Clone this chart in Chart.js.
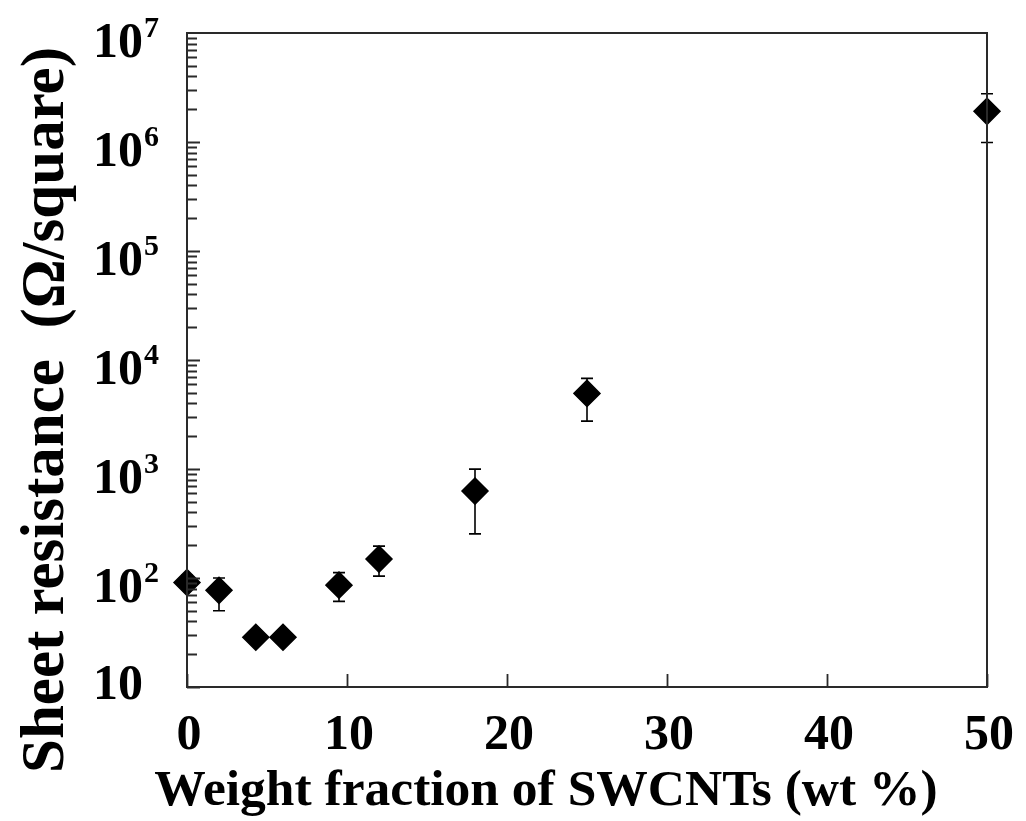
<!DOCTYPE html>
<html>
<head>
<meta charset="utf-8">
<script src="https://cdn.jsdelivr.net/npm/chart.js@4/dist/chart.umd.min.js"></script>
<style>
  html, body { margin: 0; padding: 0; background: #fff; }
  #wrap { width: 1026px; height: 821px; }
</style>
</head>
<body>
<div id="wrap"><canvas id="chart" width="1026" height="821"></canvas></div>
<script>
// Data
const weightFraction = [0, 2, 4.3, 6, 9.5, 12, 18, 25, 50];
const sheetResistance = [91, 77, 28.6, 28.6, 86, 149, 627, 4940, 1910000];
const errorUpper = [106, 100, 28.6, 28.6, 112, 196, 997, 6790, 2770000];
const errorLower = [79, 50, 28.6, 28.6, 61, 104, 254, 2750, 990000];

// Axis ticks
const xTicks = [0, 10, 20, 30, 40, 50];
const yDecades = [1, 2, 3, 4, 5, 6, 7];

const FONT = '"Liberation Serif", "Times New Roman", serif';
const AXIS_COLOR = '#2a2a2a';

// error bars, drawn under the markers
const errorBars = {
    id: 'errorBars',
    beforeDatasetsDraw(chart) {
        const ctx = chart.ctx;
        const xs = chart.scales.x, ys = chart.scales.y;
        ctx.save();
        ctx.strokeStyle = '#000';
        ctx.lineWidth = 1.6;
        weightFraction.forEach((x, i) => {
            const px = xs.getPixelForValue(x);
            const top = ys.getPixelForValue(errorUpper[i]);
            const bot = ys.getPixelForValue(errorLower[i]);
            ctx.beginPath();
            ctx.moveTo(px, top); ctx.lineTo(px, bot);
            ctx.moveTo(px - 6, top); ctx.lineTo(px + 6, top);
            ctx.moveTo(px - 6, bot); ctx.lineTo(px + 6, bot);
            ctx.stroke();
        });
        ctx.restore();
    }
};

// frame, inward ticks, tick labels and axis titles
const axisDecor = {
    id: 'axisDecor',
    afterDraw(chart) {
        const ctx = chart.ctx;
        const a = chart.chartArea;
        const xs = chart.scales.x, ys = chart.scales.y;
        ctx.save();
        ctx.strokeStyle = AXIS_COLOR;
        ctx.lineWidth = 2;
        ctx.strokeRect(a.left, a.top, a.right - a.left, a.bottom - a.top);

        // y ticks (inward), minor at 2..9 of each decade
        ctx.lineWidth = 1.8;
        ctx.beginPath();
        for (let d = 1; d < 7; d++) {
            for (let m = 1; m <= 9; m++) {
                const py = Math.round(ys.getPixelForValue(m * Math.pow(10, d))) + 0.5;
                const len = m === 1 ? 13 : 10;
                ctx.moveTo(a.left, py); ctx.lineTo(a.left + len, py);
            }
        }
        // x ticks (inward)
        xTicks.forEach(v => {
            const px = Math.round(xs.getPixelForValue(v)) + 0.5;
            ctx.moveTo(px, a.bottom); ctx.lineTo(px, a.bottom - 13);
        });
        ctx.stroke();

        ctx.fillStyle = '#000';
        // y tick labels
        yDecades.forEach(d => {
            const py = ys.getPixelForValue(Math.pow(10, d));
            ctx.font = 'bold 50px ' + FONT;
            ctx.textAlign = 'right';
            ctx.textBaseline = 'alphabetic';
            if (d === 1) {
                ctx.fillText('10', 143, py + 12);
            } else {
                ctx.fillText('10', 143, py + 24);
                ctx.font = 'bold 30px ' + FONT;
                ctx.textAlign = 'left';
                ctx.fillText(String(d), 144, py + 4);
            }
        });
        // x tick labels
        ctx.font = 'bold 50px ' + FONT;
        ctx.textAlign = 'center';
        xTicks.forEach(v => {
            const px = xs.getPixelForValue(v);
            ctx.fillText(String(v), px + 2, 749);
        });

        // axis titles
        ctx.font = 'bold 51.5px ' + FONT;
        ctx.fillText('Weight fraction of SWCNTs (wt %)', 546, 805);

        ctx.save();
        ctx.translate(63, 410);
        ctx.rotate(-Math.PI / 2);
        ctx.font = 'bold 61px ' + FONT;
        ctx.textAlign = 'center';
        ctx.fillText('Sheet resistance  (\u03A9/square)', 0, 0);
        ctx.restore();
        ctx.restore();
    }
};

document.addEventListener('DOMContentLoaded', function() {
    const ctx = document.getElementById('chart').getContext('2d');
    new Chart(ctx, {
        type: 'scatter',
        data: {
            datasets: [{
                label: 'Sheet resistance',
                data: weightFraction.map((x, i) => ({ x: x, y: sheetResistance[i] })),
                pointStyle: 'rectRot',
                pointRadius: 13,
                pointHoverRadius: 13,
                backgroundColor: '#000',
                borderColor: '#000',
                borderWidth: 1.5,
                clip: false
            }]
        },
        options: {
            responsive: false,
            animation: false,
            layout: { padding: { left: 187, right: 39, top: 33, bottom: 134 } },
            plugins: {
                legend: { display: false },
                tooltip: { enabled: false }
            },
            scales: {
                x: {
                    type: 'linear',
                    min: 0, max: 50,
                    ticks: { display: false },
                    grid: { display: false },
                    border: { display: false },
                    afterFit(scale) { scale.height = 0; }
                },
                y: {
                    type: 'logarithmic',
                    min: 10, max: 10000000,
                    ticks: { display: false },
                    grid: { display: false },
                    border: { display: false },
                    afterFit(scale) { scale.width = 0; }
                }
            }
        },
        plugins: [errorBars, axisDecor]
    });
});
</script>
</body>
</html>
